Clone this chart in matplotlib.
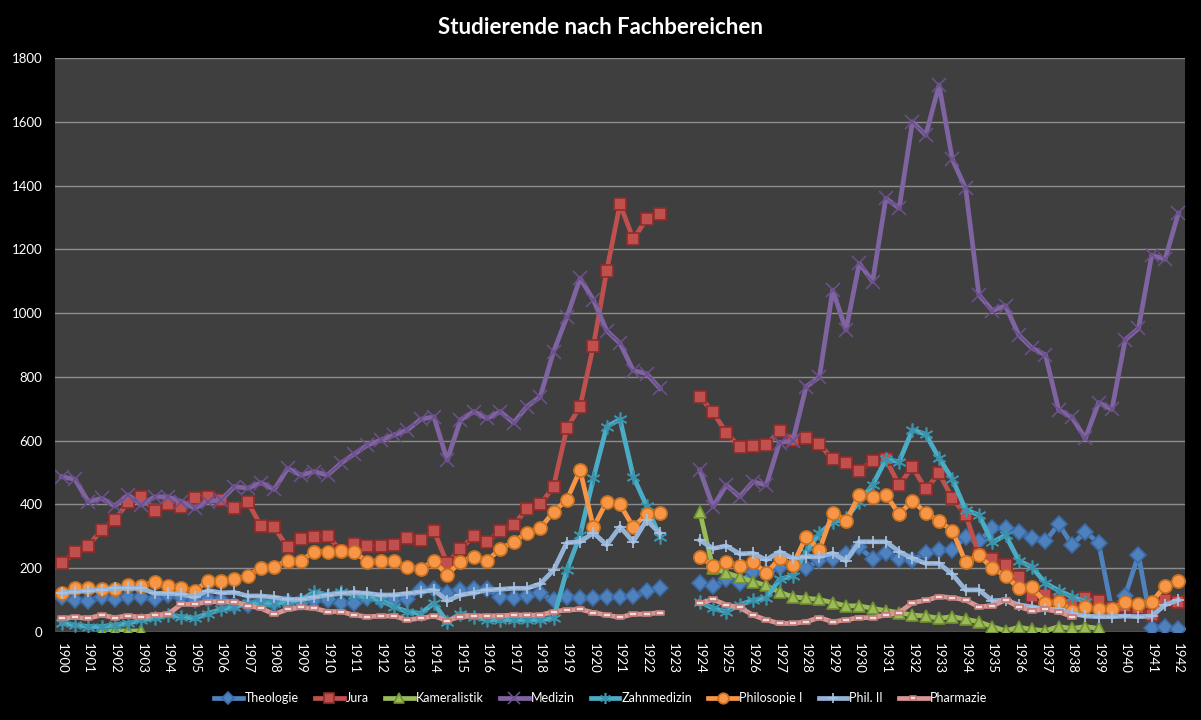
import numpy as np
import matplotlib
matplotlib.use("Agg")
import matplotlib.pyplot as plt
from matplotlib.path import Path

nan = np.nan

# one value per semester, 1900 .. 1942 (85 categories)
years = list(range(1900, 1943))

theologie = [110, 100, 98, 111, 102, 109, 109, 102, 115, 111, 100, 105, 100, 85, 85, 95, 92, 95, 95, 100,
             100, 90, 90, 106, 100, 100, 102, 134, 134, 121, 132, 134, 134, 111, 106, 113, 121, 100, 109, 106,
             106, 109, 109, 112, 128, 137, nan, nan, 155, 144, 165, 155, 189, 184, 203, 210, 200, 226, 228, 244,
             265, 230, 249, 230, 226, 248, 258, 258, 299, 284, 325, 325, 315, 294, 284, 339, 273, 315, 279, 70,
             114, 242, 14, 16, 8]
jura = [215, 250, 270, 320, 351, 408, 424, 380, 401, 393, 419, 424, 414, 388, 407, 333, 328, 265, 292, 299,
        302, 255, 275, 270, 270, 274, 296, 288, 318, 215, 260, 301, 283, 318, 336, 386, 400, 456, 639, 707,
        898, 1133, 1342, 1232, 1295, 1311, nan, nan, 738, 689, 625, 579, 584, 586, 631, 602, 607, 588, 542, 529,
        505, 537, 541, 461, 518, 447, 498, 419, 367, 244, 230, 211, 171, 112, 117, 101, 88, 106, 96, 75,
        82, 75, 54, 101, 93]
kameralistik = [nan, nan, nan, 3, 3, 3, 3] + [nan] * 41 + \
               [377, 200, 185, 172, 158, 146, 125, 110, 106, 102, 92, 82, 82, 74, 67, 61, 53, 50, 43, 48,
                40, 32, 17, 4, 15, 8, 4, 17, 11, 17, 11, nan, nan, nan, nan, nan, nan]
medizin = [487, 479, 409, 419, 395, 430, 398, 424, 424, 409, 388, 409, 414, 456, 451, 468, 447, 513, 492, 503,
           492, 529, 558, 586, 602, 618, 633, 667, 675, 539, 665, 691, 670, 691, 656, 707, 738, 879, 987, 1109,
           1041, 945, 905, 820, 810, 764, nan, nan, 508, 393, 461, 424, 471, 461, 594, 600, 769, 800, 1072, 947,
           1156, 1099, 1360, 1329, 1600, 1558, 1715, 1482, 1391, 1057, 1008, 1023, 931, 890, 869, 696, 673, 607, 719, 698,
           916, 952, 1182, 1169, 1313]
zahnmedizin = [27, 22, 17, 17, 22, 27, 38, 43, 53, 48, 43, 58, 71, 79, 90, 90, 90, 95, 100, 126,
               116, 126, 115, 109, 100, 79, 64, 58, 90, 32, 58, 48, 38, 38, 38, 38, 38, 43, 194, 304,
               482, 644, 667, 487, 396, 299, nan, nan, 95, 74, 64, 85, 100, 106, 165, 177, 252, 309, 345, 356,
               409, 461, 541, 534, 634, 620, 545, 480, 383, 367, 281, 304, 224, 203, 153, 130, 111, 95, nan, nan,
               nan, nan, nan, nan, nan]
philosophie1 = [121, 137, 137, 134, 134, 147, 144, 158, 144, 139, 129, 160, 161, 166, 176, 202, 205, 224, 224, 252,
                252, 254, 250, 221, 223, 223, 205, 198, 223, 179, 221, 236, 224, 260, 283, 311, 325, 377, 414, 508,
                328, 409, 400, 329, 370, 374, nan, nan, 236, 208, 221, 207, 221, 184, 231, 210, 299, 257, 374, 348,
                430, 422, 430, 370, 411, 374, 348, 318, 219, 241, 200, 176, 137, 140, 92, 95, 67, 79, 71, 71,
                95, 88, 95, 144, 161]
phil2 = [123, 126, 130, 132, 137, 137, 137, 121, 121, 119, 109, 130, 123, 124, 113, 113, 109, 102, 102, 109,
         116, 121, 124, 121, 116, 116, 121, 126, 132, 98, 116, 123, 132, 134, 137, 137, 151, 194, 280, 283,
         311, 273, 330, 283, 351, 309, nan, nan, 288, 262, 270, 245, 247, 226, 252, 231, 236, 236, 247, 223,
         283, 283, 283, 252, 231, 215, 215, 181, 132, 132, 98, 100, 85, 79, 71, 71, 58, 50, 48, 48,
         50, 48, 50, 85, 100]
pharmazie = [43, 46, 43, 53, 45, 51, 46, 53, 56, 87, 87, 95, 95, 95, 83, 74, 56, 71, 77, 74,
             64, 64, 53, 48, 50, 50, 38, 43, 50, 36, 48, 50, 50, 51, 53, 53, 53, 64, 69, 71,
             61, 53, 46, 56, 56, 61, nan, nan, 90, 102, 85, 77, 53, 38, 27, 27, 32, 45, 32, 38,
             45, 45, 53, 61, 92, 99, 111, 108, 100, 79, 82, 100, 79, 67, 71, 64, 48, nan, nan, nan,
             nan, nan, nan, nan, nan]

dash = Path([(-1, -0.45), (1, -0.45), (1, 0.45), (-1, 0.45), (-1, -0.45)],
            [Path.MOVETO, Path.LINETO, Path.LINETO, Path.LINETO, Path.CLOSEPOLY])

series = [
    ("Theologie", theologie, "#4f81bd", "D", 8, "#3a6aa5", "#4f81bd"),
    ("Jura", jura, "#c0504d", "s", 9, "#8c2e2b", "#c0504d"),
    ("Kameralistik", kameralistik, "#9bbb59", "^", 9, "#6f8f30", "#9bbb59"),
    ("Medizin", medizin, "#8064a2", "x", 10, "#6a4f8c", "#8064a2"),
    ("Zahnmedizin", zahnmedizin, "#4bacc6", (6, 2, 0), 10, "#3a93ab", "#4bacc6"),
    ("Philosopie I", philosophie1, "#f79646", "o", 9.5, "#c8701f", "#f79646"),
    ("Phil. II", phil2, "#95b3d7", "+", 9, "#a9c4e4", "#95b3d7"),
    ("Pharmazie", pharmazie, "#d99694", dash, 6, "#c07a78", "#f2dcdb"),
]

fig = plt.figure(figsize=(12.01, 7.2), dpi=100, facecolor="black")
ax = fig.add_axes([55 / 1201, 1 - 632 / 720, 1130 / 1201, 574 / 720])
ax.set_facecolor("#3f3f3f")

x = np.arange(85)
for name, vals, col, mk, ms, mec, mfc in series:
    ax.plot(x, vals, color=col, lw=3.4, marker=mk, markersize=ms,
            markeredgecolor=mec, markerfacecolor=mfc, markeredgewidth=1.2,
            label=name, solid_joinstyle="round")

ax.set_xlim(-0.5, 84.5)
ax.set_ylim(0, 1800)
ax.set_yticks(range(0, 1801, 200))
ax.set_xticks(np.arange(0, 85, 2))
ax.set_xticklabels([str(y) for y in years], rotation=-90, color="white", fontsize=9.5,
                   family="Lato")
ax.tick_params(axis="y", colors="white", labelsize=9.5, length=0, pad=9)
ax.tick_params(axis="x", colors="white", length=0, pad=8)
for lab in ax.get_yticklabels():
    lab.set_family("Lato")
ax.grid(axis="y", color="#8c8c8c", lw=1)
ax.set_axisbelow(True)
for s in ax.spines.values():
    s.set_visible(False)

fig.text(0.5, 1 - 27 / 720, "Studierende nach Fachbereichen", color="white",
         fontsize=16, fontweight="bold", family="Lato", ha="center", va="center")

leg = fig.legend(loc="center", bbox_to_anchor=(0.5, 1 - 698 / 720), ncol=8, frameon=False,
                 handlelength=2.3, columnspacing=1.3, handletextpad=0.15, markerscale=0.8,
                 prop={"family": "Lato", "size": 9})
for t in leg.get_texts():
    t.set_color("white")

fig.savefig("out.png", dpi=100, facecolor="black")
